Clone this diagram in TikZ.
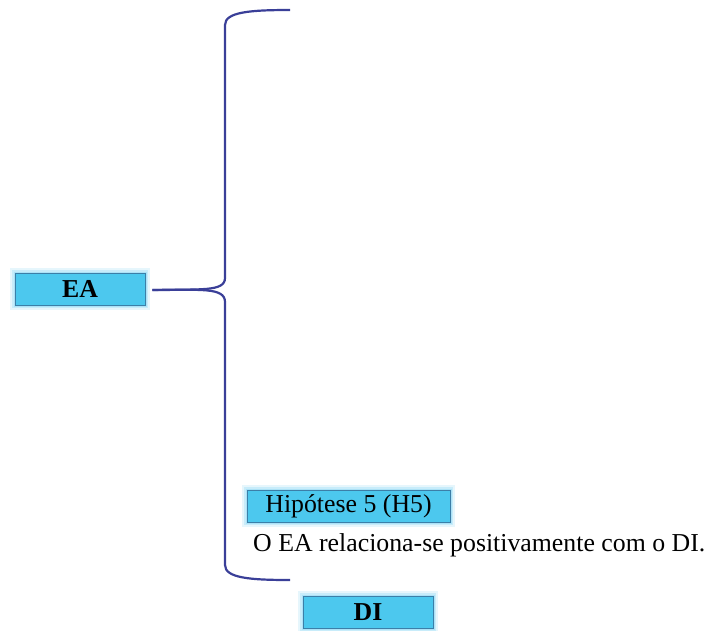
\documentclass[tikz,border=0pt]{standalone}
\usepackage{fontspec}
\setmainfont{Liberation Serif}
\definecolor{boxfill}{HTML}{4CC8EE}
\definecolor{boxline}{HTML}{3C7FA8}
\definecolor{glow}{HTML}{9ADCF5}
\definecolor{bracecol}{HTML}{3A3F98}
\tikzset{
  gbox/.style={draw=boxline, line width=0.8pt, fill=boxfill, minimum height=32pt, inner sep=0pt,
    preaction={draw=glow, line width=10pt, opacity=0.25},
    preaction={draw=glow, line width=6pt, opacity=0.4},
    preaction={draw=glow, line width=3pt, opacity=0.6}},
  brace/.style={draw=bracecol, line width=2.2pt},
  plain/.style={inner sep=0pt, anchor=west},
  bigfont/.style={font=\fontsize{25.8}{28}\selectfont},
  boldfont/.style={font=\fontsize{25.8}{28}\selectfont\bfseries}
}
\begin{document}
\begin{tikzpicture}[x=1pt,y=-1pt]
\useasboundingbox (0,0) rectangle (707,630);
\node[gbox, minimum width=130pt, boldfont] (ea) at (80,289) {EA};
\node[gbox, minimum width=203pt, bigfont] (h5) at (348.5,506) {Hipótese 5 (H5)};
\node[plain, bigfont] (txt) at (253,545) {O EA relaciona-se positivamente com o DI.};
\node[gbox, minimum width=130pt, boldfont] (di) at (368,612) {DI};
\coordinate (top) at (290,10);
\coordinate (bot) at (290,580);
\draw[brace] (ea.east) ++(7,1) coordinate (tip)
  (tip) .. controls (200,289) and (225,292) .. (225,278)
  -- (225,25) .. controls (225,12) and (250,10) .. (top);
\draw[brace] (tip) .. controls (200,290) and (225,287) .. (225,302)
  -- (225,565) .. controls (225,578) and (250,580) .. (bot);
\end{tikzpicture}
\end{document}
